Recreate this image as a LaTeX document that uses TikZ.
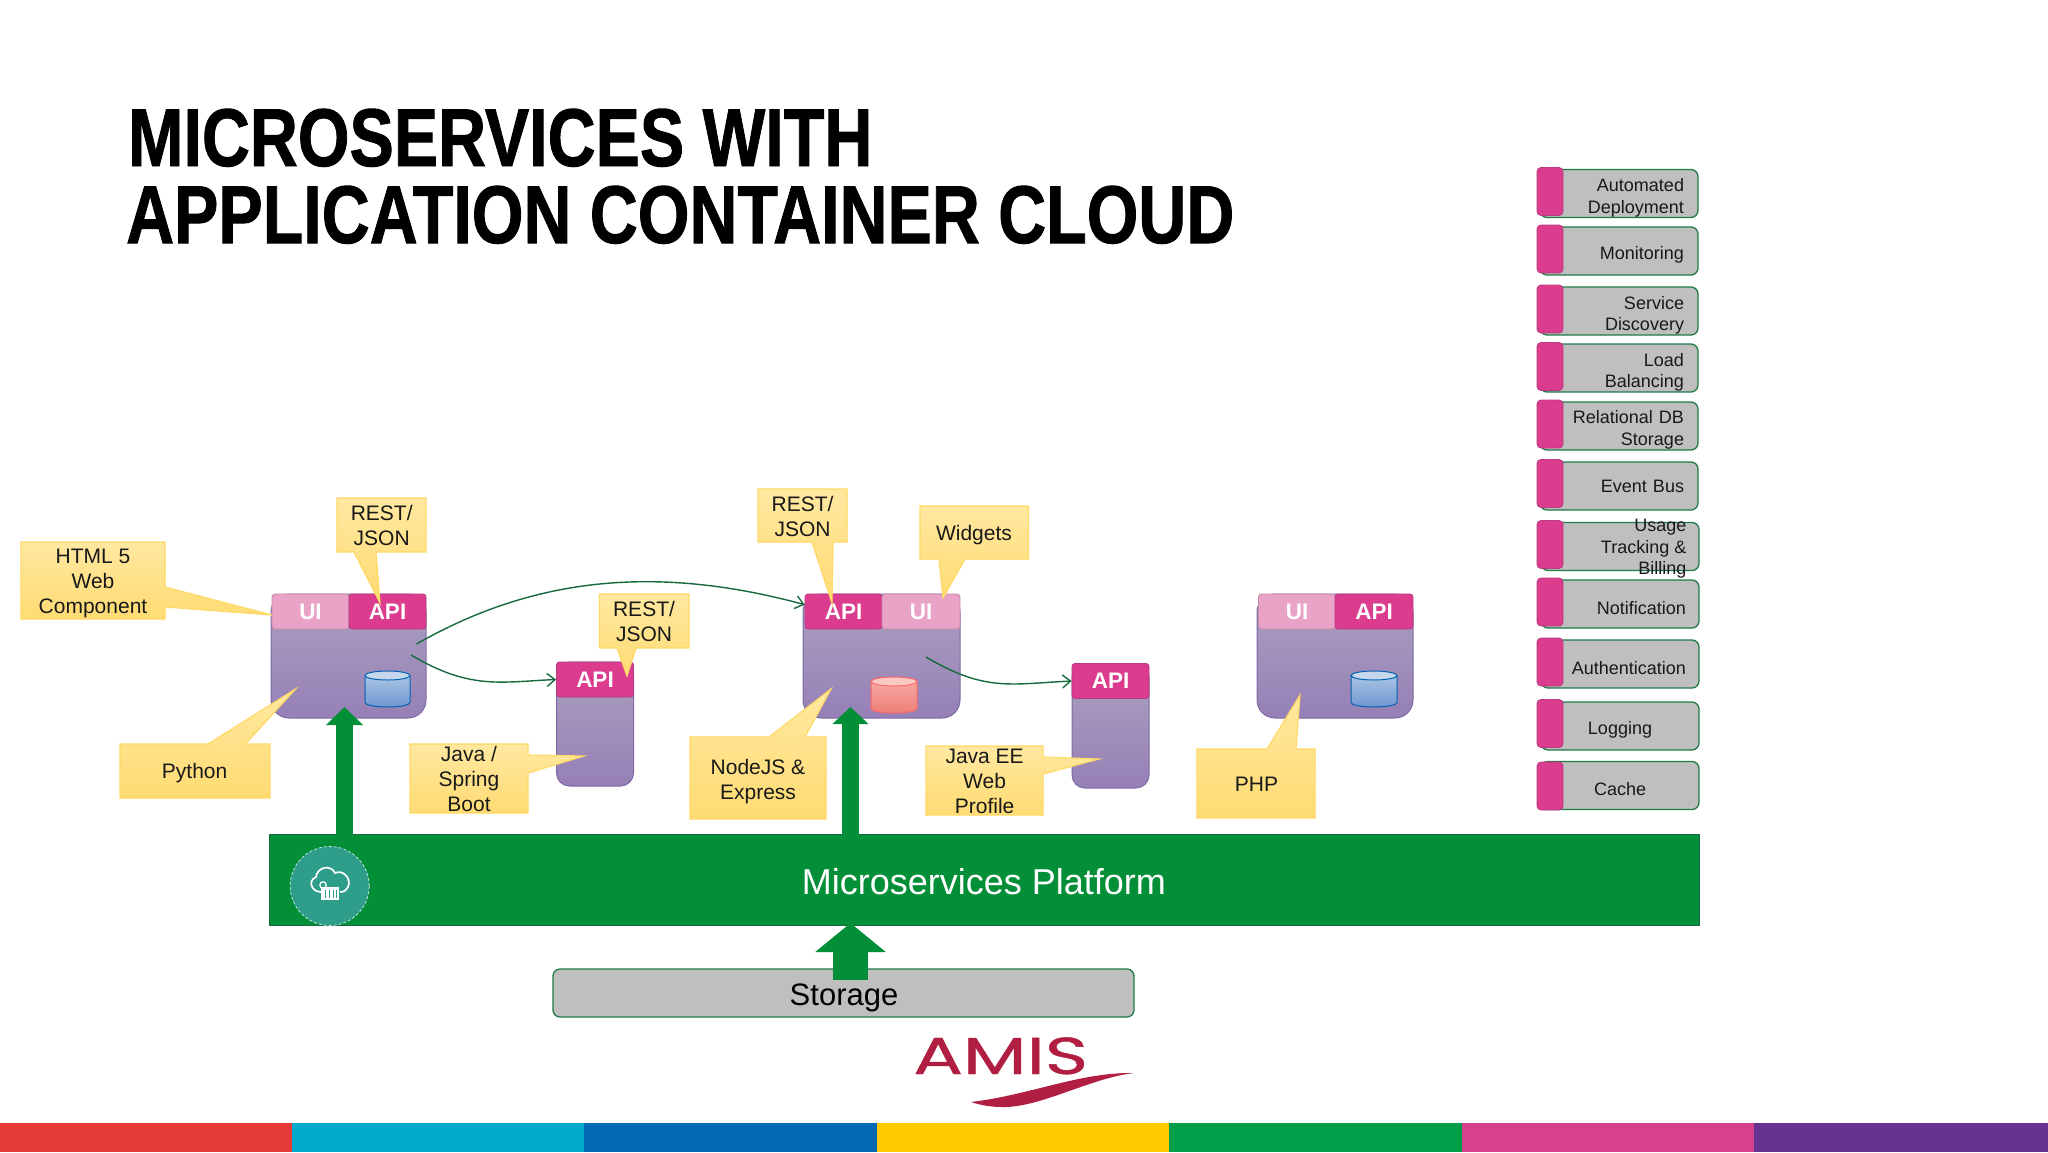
\documentclass[tikz,border=0pt]{standalone}
\usepackage{fontspec}
\setmainfont{Liberation Sans}
\newfontfamily\logofont[FakeBold=0.7]{Poppins}
\newfontfamily\titlefont[FakeBold=1.2]{Liberation Sans Bold}
\usetikzlibrary{arrows.meta}
\definecolor{notetop}{HTML}{FFE8A0}
\definecolor{notebot}{HTML}{FFDB72}
\definecolor{noteline}{HTML}{FFD966}
\definecolor{svctop}{HTML}{ABA0BF}
\definecolor{svcbot}{HTML}{9680B6}
\definecolor{svcline}{HTML}{7F6AA8}
\definecolor{apipink}{HTML}{DB3C8E}
\definecolor{uipink}{HTML}{E9A3C6}
\definecolor{tabline}{HTML}{B83A80}
\definecolor{platgreen}{HTML}{028F38}
\definecolor{capgrey}{HTML}{BFBFBF}
\definecolor{capline}{HTML}{1F7A48}
\definecolor{flowgreen}{HTML}{17693F}
\definecolor{tealdisc}{HTML}{2E9E8A}
\definecolor{amisred}{HTML}{B01F42}
\definecolor{stripred}{HTML}{E53935}
\definecolor{stripcyan}{HTML}{00AACD}
\definecolor{stripblue}{HTML}{0068B4}
\definecolor{stripyellow}{HTML}{FFCB00}
\definecolor{stripgreen}{HTML}{009E49}
\definecolor{strippink}{HTML}{D6408D}
\definecolor{strippurple}{HTML}{663391}
\tikzset{
  notebody/.style={draw=noteline,line width=1.2pt,top color=notetop,bottom color=notebot},
  notetext/.style={font=\fontsize{21}{25}\selectfont,align=center,inner sep=0pt,text=black!90},
  service/.style={draw=svcline,line width=1pt,rounded corners=#1,top color=svctop,bottom color=svcbot,minimum height=124pt,inner sep=0pt},
  apitab/.style={draw=tabline,line width=0.8pt,fill=apipink,rounded corners=3pt,minimum height=35pt,minimum width=#1,inner sep=0pt,text=white,font=\fontsize{22.5}{25}\bfseries\selectfont},
  uitab/.style={apitab=#1,fill=uipink,draw=uipink!85!black},
  drumblue/.style={draw=blue!45!cyan!70!black,line width=1pt,top color={rgb,255:red,169;green,196;blue,228},bottom color={rgb,255:red,111;green,151;blue,208}},
  drumbluetop/.style={draw=blue!45!cyan!70!black,line width=1pt,fill={rgb,255:red,198;green,214;blue,236}},
  drumred/.style={draw=red!60!white,line width=1pt,top color={rgb,255:red,245;green,168;blue,162},bottom color={rgb,255:red,238;green,127;blue,120}},
  drumredtop/.style={draw=red!60!white,line width=1pt,fill={rgb,255:red,249;green,201;blue,196}},
  flow/.style={draw=flowgreen,line width=1.4pt,-{Straight Barb[length=8pt,width=13pt]}},
  bigarrow/.style={draw=platgreen,line width=#1},
  capdrop/.style={execute at begin node={\vskip#1}},
  capbox/.style={draw=capline,line width=1.3pt,fill=capgrey,rounded corners=7pt,minimum width=158pt,minimum height=48pt,
    text width=130pt,inner xsep=12pt,inner ysep=0pt,align=right,font=\fontsize{18}{21.5}\selectfont,text=black!90},
  captab/.style={draw=tabline,line width=0.8pt,fill=apipink,rounded corners=4pt,minimum width=26pt,minimum height=48pt,inner sep=0pt},
  titleline/.style={font=\fontsize{82}{82}\titlefont,anchor=base west,xscale=#1,inner sep=0pt,text=black},
}
\begin{document}
\begin{tikzpicture}[x=1pt,y=-1pt]
\useasboundingbox (0,0) rectangle (2048,1152);
% title
\node[titleline=0.81] (titleA) at (128,166) {MICROSERVICES WITH};
\node[titleline=0.81] (titleB) at (126,243) {APPLICATION CONTAINER CLOUD};
% colour strip
\fill[stripred] (0,1123) rectangle (292,1152);
\fill[stripcyan] (292,1123) rectangle (584,1152);
\fill[stripblue] (584,1123) rectangle (877,1152);
\fill[stripyellow] (877,1123) rectangle (1169,1152);
\fill[stripgreen] (1169,1123) rectangle (1462,1152);
\fill[strippink] (1462,1123) rectangle (1754,1152);
\fill[strippurple] (1754,1123) rectangle (2048,1152);
% platform and storage
\node[fill=platgreen,draw=flowgreen,minimum width=1430pt,minimum height=91pt,inner sep=0pt] (platform) at (984.5,880) {};
\node[inner sep=0pt,text=white,font=\fontsize{36}{40}\selectfont] (platformtext) at (984,882) {Microservices Platform};
\node[draw=capline,line width=1.3pt,fill=capgrey,rounded corners=7pt,minimum width=581pt,minimum height=48pt,inner sep=0pt] (storage) at (843.5,993) {};
\node[inner sep=0pt,font=\fontsize{31}{34}\selectfont] (storagetext) at (844,997.5) {Storage};
% services
\node[service=18pt,minimum width=155pt] (svcA) at (348.5,656) {};
\node[service=13pt,minimum width=77pt] (svcB) at (595,724) {};
\node[service=18pt,minimum width=157pt] (svcC) at (881.5,656) {};
\node[service=13pt,minimum width=77pt] (svcD) at (1110.5,726) {};
\node[service=18pt,minimum width=156pt] (svcE) at (1335,656) {};
\node[uitab=77pt] (uiA) at (310.5,611.5) {UI};
\node[apitab=77pt] (apiA) at (387.5,611.5) {API};
\node[apitab=77pt] (apiB) at (595,679.5) {API};
\node[apitab=77pt] (apiC) at (843.5,611.5) {API};
\node[uitab=78pt] (uiC) at (921,611.5) {UI};
\node[apitab=77pt] (apiD) at (1110.5,681) {API};
\node[uitab=77pt] (uiE) at (1297,611.5) {UI};
\node[apitab=78pt] (apiE) at (1374,611.5) {API};
% databases
\draw[drumblue] (365,675.5) -- (365,702.5) arc[start angle=180,end angle=0,x radius=22.5,y radius=4.5] -- (410,675.5);
\draw[drumbluetop] (387.5,675.5) ellipse [x radius=22.5,y radius=4.5];
\draw[drumred] (871,681.5) -- (871,708.5) arc[start angle=180,end angle=0,x radius=23,y radius=4.5] -- (917,681.5);
\draw[drumredtop] (894,681.5) ellipse [x radius=23,y radius=4.5];
\draw[drumblue] (1351,675.5) -- (1351,702.5) arc[start angle=180,end angle=0,x radius=23,y radius=4.5] -- (1397,675.5);
\draw[drumbluetop] (1374,675.5) ellipse [x radius=23,y radius=4.5];
% flows
\coordinate (flowAa) at (416.5,644);
\coordinate (flowAb) at (411,655);
\coordinate (flowCb) at (926,657);
\draw[flow] (flowAa) .. controls (520,585) and (640,560) .. (apiC.170);
\draw[flow] (flowAb) .. controls (470,690) and (500,682) .. (apiB.west);
\draw[flow] (flowCb) .. controls (985,692) and (1010,684) .. (apiD.west);
% feed arrows
\coordinate (feedA) at (344.5,843);
\coordinate (feedAtip) at (344.5,707);
\coordinate (feedC) at (850.5,843);
\coordinate (feedCtip) at (850.5,707);
\coordinate (feedS) at (850.5,980);
\coordinate (feedStip) at (850.5,923);
\draw[bigarrow=17pt,-{Triangle[length=18pt,width=36pt]}] (feedA) -- (feedAtip);
\draw[bigarrow=17pt,-{Triangle[length=17pt,width=35pt]}] (feedC) -- (feedCtip);
\draw[bigarrow=35pt,-{Triangle[length=29pt,width=69pt]}] (feedS) -- (feedStip);
% cloud badge
\node[circle,fill=tealdisc,draw=white!70!tealdisc,densely dashed,line width=0.8pt,minimum size=79pt,inner sep=0pt] (badge) at (329.7,886) {};
\draw[white,line width=1.7pt] (321,892) .. controls (312,892) and (307,881) .. (316,877) .. controls (317,867) and (331,864) .. (335,873) .. controls (343,869) and (352,879) .. (348,887) .. controls (347,890) and (344,892) .. (340,892);
\draw[white,line width=1.2pt] (323,885) circle (3.2);
\fill[white] (321,887) rectangle (339,900);
\draw[tealdisc,line width=1pt] (325,890) -- (325,898) (329,890) -- (329,898) (333,890) -- (333,898) (336.5,890) -- (336.5,898);
% notes
\draw[notebody] (21,542) -- (165,542) -- (165,587) -- (272,615) -- (165,607) -- (165,619) -- (21,619) -- cycle;
\draw[notebody] (337,498) -- (426,498) -- (426,552) -- (376,552) -- (380,603) -- (354,552) -- (337,552) -- cycle;
\draw[notebody] (120,744) -- (208,744) -- (295.5,689) -- (245.5,744) -- (270,744) -- (270,798) -- (120,798) -- cycle;
\draw[notebody] (410,744) -- (528,744) -- (528,755) -- (584,756) -- (528,773) -- (528,813) -- (410,813) -- cycle;
\draw[notebody] (599.5,594) -- (689,594) -- (689,648) -- (636,648) -- (627,676) -- (617,648) -- (599.5,648) -- cycle;
\draw[notebody] (758,489) -- (847,489) -- (847,542) -- (833,542) -- (832,603) -- (812,542) -- (758,542) -- cycle;
\draw[notebody] (920,506) -- (1028.5,506) -- (1028.5,559) -- (965,559) -- (943,598) -- (939,559) -- (920,559) -- cycle;
\draw[notebody] (690,737) -- (769,737) -- (831,689) -- (805,737) -- (826,737) -- (826,819) -- (690,819) -- cycle;
\draw[notebody] (926,746) -- (1043,746) -- (1043,757) -- (1099,759) -- (1043,774) -- (1043,815) -- (926,815) -- cycle;
\draw[notebody] (1197,749) -- (1267,749) -- (1300,695) -- (1296,749) -- (1315,749) -- (1315,818) -- (1197,818) -- cycle;
\node[notetext] (noteHtml) at (93,583) {HTML 5\\Web\\Component};
\node[notetext] (noteRestA) at (381.7,525.5) {REST/\\JSON};
\node[notetext] (notePython) at (194.6,773) {Python};
\node[notetext] (noteJava) at (469,779) {Java /\\Spring\\Boot};
\node[notetext] (noteRestB) at (644,621) {REST/\\JSON};
\node[notetext] (noteRestC) at (802.5,516.7) {REST/\\JSON};
\node[notetext] (noteWidgets) at (974,535.5) {Widgets};
\node[notetext] (noteNode) at (758,781.5) {NodeJS \&\\Express};
\node[notetext] (noteEe) at (984.6,781) {Java EE\\Web\\Profile};
\node[notetext] (notePhp) at (1256.5,784) {PHP};
% capabilities
\node[capbox,capdrop=0pt] (capDeploy) at (1619,193.5) {Automated\\Deployment};
\node[captab] (tabDeploy) at (1550,191.5) {};
\node[capbox,capdrop=0pt] (capMonitor) at (1619,251) {Monitoring};
\node[captab] (tabMonitor) at (1550,249) {};
\node[capbox,capdrop=0pt] (capDiscovery) at (1619,311) {Service\\Discovery};
\node[captab] (tabDiscovery) at (1550,309) {};
\node[capbox,capdrop=0pt] (capLoad) at (1619,368) {Load\\Balancing};
\node[captab] (tabLoad) at (1550,366.5) {};
\node[capbox,capdrop=-0.7pt] (capDb) at (1619,426) {Relational DB\\Storage};
\node[captab] (tabDb) at (1550,424) {};
\node[capbox] (capBus) at (1619,486) {Event Bus};
\node[captab] (tabBus) at (1550,483.5) {};
\node[capbox] (capUsage) at (1620,546.5) {};
\node[captab] (tabUsage) at (1550,544.5) {};
\node[font=\fontsize{18}{21.5}\selectfont,align=right,anchor=east,inner sep=0pt,text=black!90] (usagetext) at (1686.5,549) {Usage\\Tracking \&\\Billing};
\node[capbox,text width=132pt,capdrop=-1.3pt] (capNotify) at (1620,604) {Notification};
\node[captab] (tabNotify) at (1550,602) {};
\node[capbox,text width=132pt,capdrop=-1.3pt] (capAuth) at (1620,664) {Authentication};
\node[captab] (tabAuth) at (1550,662) {};
\node[capbox,align=center,capdrop=-0.7pt] (capLog) at (1620,726) {Logging};
\node[captab] (tabLog) at (1550,723.5) {};
\node[capbox,align=center,capdrop=-1.3pt] (capCache) at (1620,785.5) {Cache};
\node[captab] (tabCache) at (1550,786) {};
% logo
\node[text=amisred,font=\fontsize{52}{52}\selectfont\logofont,inner sep=0pt,anchor=base west,xscale=1.42] (logo) at (913,1074) {AMIS};
\fill[amisred] (971,1102) .. controls (1030,1095) and (1080,1072) .. (1134,1073) .. controls (1090,1078) and (1040,1108) .. (1002,1107) .. controls (990,1107) and (980,1105) .. (971,1102) -- cycle;
\end{tikzpicture}
\end{document}
